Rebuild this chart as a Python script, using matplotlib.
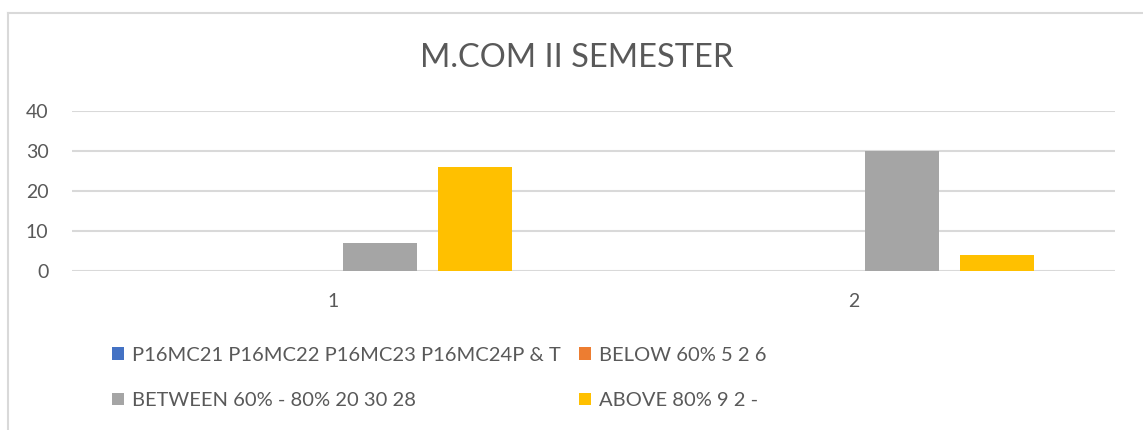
import matplotlib.pyplot as plt
import matplotlib.lines as mlines
import numpy as np

plt.rcParams['font.family'] = ['Lato', 'DejaVu Sans']

categories = ["1", "2"]
series_names = ["P16MC21 P16MC22 P16MC23 P16MC24P & T",
                "BELOW 60% 5 2 6",
                "BETWEEN 60% - 80% 20 30 28",
                "ABOVE 80% 9 2 -"]
series_values = [[0, 0],
                 [0, 0],
                 [7, 30],
                 [26, 4]]
colors = ["#4472c4", "#ed7d31", "#a5a5a5", "#ffc000"]

W, H = 1143, 430
fig = plt.figure(figsize=(W / 100, H / 100), dpi=100)
ax = fig.add_axes([72 / W, 1 - 271 / H, (1115 - 72) / W, (271 - 111) / H])

x = np.arange(len(categories))
bw = 0.142
step = 0.182
bars = []
for i, (name, vals, c) in enumerate(zip(series_names, series_values, colors)):
    bars.append(ax.bar(x + (i - 1.5) * step, vals, width=bw, color=c, label=name, zorder=3))

ax.set_xlim(-0.5, 1.5)
ax.set_ylim(0, 40)
ax.set_yticks([0, 10, 20, 30, 40])
ax.set_xticks(x)
ax.set_xticklabels(categories)
ax.grid(axis='y', color='#d9d9d9', linewidth=1.5, zorder=0)
for s in ax.spines.values():
    s.set_visible(False)
ax.tick_params(length=0, labelsize=14, labelcolor='#595959')
ax.tick_params(axis='x', pad=16)
ax.tick_params(axis='y', pad=17)

fig.text(577 / W, 1 - 58 / H, "M.COM II SEMESTER", ha='center', va='center',
         fontsize=23.5, color='#595959')

# row-wise legend order
order = [0, 2, 1, 3]
leg = fig.legend([bars[i] for i in order], [series_names[i] for i in order],
                 loc='center left', bbox_to_anchor=(94 / W, 1 - 378 / H), ncol=2,
                 frameon=False, fontsize=14.5, labelcolor='#595959',
                 handlelength=0.6, handleheight=0.6, handletextpad=0.4,
                 columnspacing=0.9, labelspacing=1.4)

# chart border (top and left edges only visible)
fig.add_artist(mlines.Line2D([8 / W, 1], [1 - 13 / H, 1 - 13 / H], color='#d9d9d9', lw=1.5))
fig.add_artist(mlines.Line2D([8 / W, 8 / W], [0, 1 - 13 / H], color='#d9d9d9', lw=1.5))

fig.savefig("out.png", dpi=100)
